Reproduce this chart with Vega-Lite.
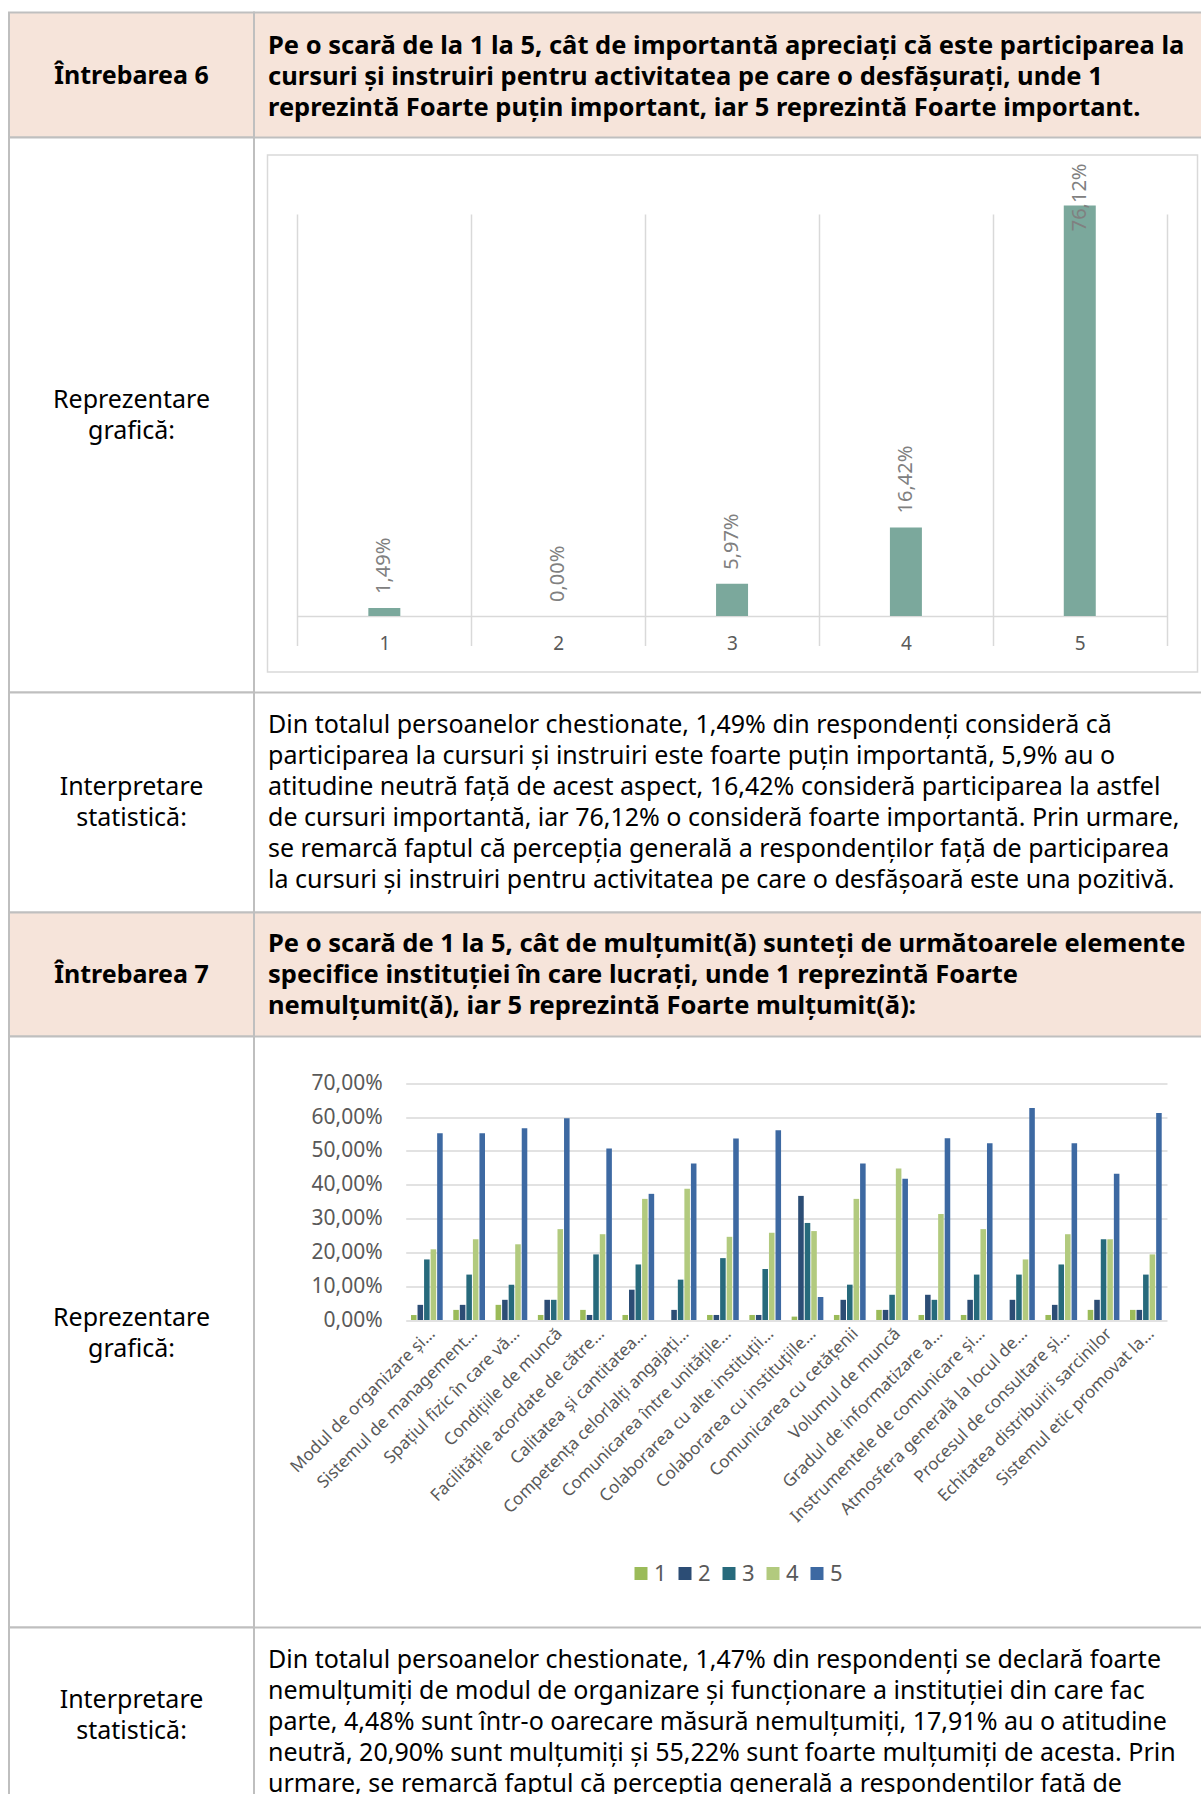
{
  "$schema": "https://vega.github.io/schema/vega-lite/v6.json",
  "padding": {"left": 8, "top": 11.5, "right": -12, "bottom": -14.5},
  "background": "white",
  "columns": 2,
  "spacing": 0,
  "bounds": "flush",
  "align": "each",
  "config": {
    "view": {"stroke": null},
    "font": "Noto Sans",
    "locale": {"number": {"decimal": ",", "thousands": ".", "grouping": [3], "currency": ["", " €"]}}
  },
  "concat": [
    {
      "width": 245, "height": 125,
      "view": {"fill": "#F6E4DA", "stroke": "#BFBFBF", "strokeWidth": 2},
      "data": {"values": [{"t": "Întrebarea 6"}]},
      "mark": {"type": "text", "fontSize": 25, "fontWeight": "bold", "color": "#000000", "align": "center", "baseline": "middle", "dy": 0.5},
      "encoding": {"text": {"field": "t", "type": "nominal"}}
    },
    {
      "width": 958, "height": 125,
      "view": {"fill": "#F6E4DA", "stroke": "#BFBFBF", "strokeWidth": 2},
      "data": {"values": [{"t": "Pe o scară de la 1 la 5, cât de importantă apreciați că este participarea la\ncursuri și instruiri pentru activitatea pe care o desfășurați, unde 1\nreprezintă Foarte puțin important, iar 5 reprezintă Foarte important."}]},
      "mark": {"type": "text", "fontSize": 25.5, "fontWeight": "bold", "color": "#000000", "align": "left", "baseline": "middle", "lineBreak": "\n", "lineHeight": 31, "dy": -29.5},
      "encoding": {"text": {"field": "t", "type": "nominal"}, "x": {"value": 14}}
    },
    {
      "width": 245, "height": 555,
      "view": {"fill": "white", "stroke": "#BFBFBF", "strokeWidth": 2},
      "data": {"values": [{"t": "Reprezentare\ngrafică:"}]},
      "mark": {"type": "text", "fontSize": 25, "color": "#000000", "align": "center", "baseline": "middle", "lineBreak": "\n", "lineHeight": 31, "dy": -15.5},
      "encoding": {"text": {"field": "t", "type": "nominal"}}
    },
    {
      "width": 958, "height": 555,
      "layer": [
        {
          "data": {"values": [{"f": "frame"}]},
          "mark": {"type": "rect", "filled": false, "color": "#D9D9D9", "strokeWidth": 1.5},
          "encoding": {
            "x": {"datum": 0, "type": "quantitative", "scale": {"domain": [0, 1], "range": [13.5, 943.5]}, "axis": null},
            "x2": {"datum": 1},
            "y": {"datum": 0, "type": "quantitative", "scale": {"domain": [0, 1], "range": [17.5, 534.5]}, "axis": null},
            "y2": {"datum": 1}
          }
        },
        {
          "data": {"values": [
            {"k": "1", "v": 0.0149},
            {"k": "2", "v": 0.0},
            {"k": "3", "v": 0.0597},
            {"k": "4", "v": 0.1642},
            {"k": "5", "v": 0.7612}
          ]},
          "encoding": {
            "x": {
              "field": "k", "type": "ordinal",
              "scale": {"range": [43.4, 912.7], "paddingInner": 0, "paddingOuter": 0},
              "axis": {"orient": "bottom", "offset": -76.5, "title": null, "labelAngle": 0, "domain": true, "domainColor": "#D9D9D9", "domainWidth": 1.5, "ticks": false, "grid": true, "gridColor": "#D9D9D9", "gridWidth": 1.5, "tickBand": "extent", "labelFontSize": 19, "labelColor": "#595959", "labelPadding": 18.5}
            },
            "y": {"field": "v", "type": "quantitative", "scale": {"domain": [0, 0.8], "range": [478.5, 47.1]}, "axis": null}
          },
          "layer": [
            {"mark": {"type": "bar", "color": "#7BA89C", "width": {"band": 0.184}}},
            {
              "transform": [{"filter": {"field": "v", "lt": 0.5}}],
              "mark": {"type": "text", "angle": 270, "align": "left", "baseline": "middle", "dx": 14, "fontSize": 20, "color": "#808080"},
              "encoding": {"text": {"field": "v", "type": "quantitative", "format": ".2%"}}
            },
            {
              "transform": [{"filter": {"field": "v", "gte": 0.5}}],
              "mark": {"type": "text", "angle": 270, "align": "right", "baseline": "middle", "dx": 42, "fontSize": 20, "color": "#808080"},
              "encoding": {"text": {"field": "v", "type": "quantitative", "format": ".2%"}}
            }
          ]
        }
      ],
      "resolve": {"scale": {"x": "independent", "y": "independent"}}
    },
    {
      "width": 245, "height": 220,
      "view": {"fill": "white", "stroke": "#BFBFBF", "strokeWidth": 2},
      "data": {"values": [{"t": "Interpretare\nstatistică:"}]},
      "mark": {"type": "text", "fontSize": 25, "color": "#000000", "align": "center", "baseline": "middle", "lineBreak": "\n", "lineHeight": 31, "dy": -15.5},
      "encoding": {"text": {"field": "t", "type": "nominal"}}
    },
    {
      "width": 958, "height": 220,
      "view": {"fill": "white", "stroke": "#BFBFBF", "strokeWidth": 2},
      "data": {"values": [{"t": "Din totalul persoanelor chestionate, 1,49% din respondenți consideră că\nparticiparea la cursuri și instruiri este foarte puțin importantă, 5,9% au o\natitudine neutră față de acest aspect, 16,42% consideră participarea la astfel\nde cursuri importantă, iar 76,12% o consideră foarte importantă. Prin urmare,\nse remarcă faptul că percepția generală a respondenților față de participarea\nla cursuri și instruiri pentru activitatea pe care o desfășoară este una pozitivă."}]},
      "mark": {"type": "text", "fontSize": 25, "color": "#000000", "align": "left", "baseline": "middle", "lineBreak": "\n", "lineHeight": 31, "dy": -77.5},
      "encoding": {"text": {"field": "t", "type": "nominal"}, "x": {"value": 14}}
    },
    {
      "width": 245, "height": 124,
      "view": {"fill": "#F6E4DA", "stroke": "#BFBFBF", "strokeWidth": 2},
      "data": {"values": [{"t": "Întrebarea 7"}]},
      "mark": {"type": "text", "fontSize": 25, "fontWeight": "bold", "color": "#000000", "align": "center", "baseline": "middle"},
      "encoding": {"text": {"field": "t", "type": "nominal"}}
    },
    {
      "width": 958, "height": 124,
      "view": {"fill": "#F6E4DA", "stroke": "#BFBFBF", "strokeWidth": 2},
      "data": {"values": [{"t": "Pe o scară de 1 la 5, cât de mulțumit(ă) sunteți de următoarele elemente\nspecifice instituției în care lucrați, unde 1 reprezintă Foarte\nnemulțumit(ă), iar 5 reprezintă Foarte mulțumit(ă):"}]},
      "mark": {"type": "text", "fontSize": 25.5, "fontWeight": "bold", "color": "#000000", "align": "left", "baseline": "middle", "lineBreak": "\n", "lineHeight": 31, "dy": -31},
      "encoding": {"text": {"field": "t", "type": "nominal"}, "x": {"value": 14}}
    },
    {
      "width": 245, "height": 591,
      "view": {"fill": "white", "stroke": "#BFBFBF", "strokeWidth": 2},
      "data": {"values": [{"t": "Reprezentare\ngrafică:"}]},
      "mark": {"type": "text", "fontSize": 25, "color": "#000000", "align": "center", "baseline": "middle", "lineBreak": "\n", "lineHeight": 31, "dy": -14.5},
      "encoding": {"text": {"field": "t", "type": "nominal"}}
    },
    {
      "width": 958, "height": 591,
      "data": {"values": [
        {"c": "Modul de organizare și…", "1": 0.0147, "2": 0.0448, "3": 0.1791, "4": 0.2090, "5": 0.5522},
        {"c": "Sistemul de management…", "1": 0.0299, "2": 0.0448, "3": 0.1343, "4": 0.2388, "5": 0.5522},
        {"c": "Spațiul fizic în care vă…", "1": 0.0448, "2": 0.0597, "3": 0.1045, "4": 0.2239, "5": 0.5672},
        {"c": "Condițiile de muncă", "1": 0.0149, "2": 0.0597, "3": 0.0597, "4": 0.2687, "5": 0.5970},
        {"c": "Facilitățile acordate de către…", "1": 0.0299, "2": 0.0149, "3": 0.1940, "4": 0.2537, "5": 0.5075},
        {"c": "Calitatea și cantitatea…", "1": 0.0149, "2": 0.0896, "3": 0.1642, "4": 0.3582, "5": 0.3731},
        {"c": "Competența celorlalți angajați…", "1": 0.0, "2": 0.0299, "3": 0.1194, "4": 0.3881, "5": 0.4627},
        {"c": "Comunicarea între unitățile…", "1": 0.0149, "2": 0.0149, "3": 0.1830, "4": 0.2460, "5": 0.5370},
        {"c": "Colaborarea cu alte instituții…", "1": 0.0149, "2": 0.0149, "3": 0.1510, "4": 0.2580, "5": 0.5610},
        {"c": "Colaborarea cu instituțiile…", "1": 0.0100, "2": 0.3670, "3": 0.2870, "4": 0.2630, "5": 0.0680},
        {"c": "Comunicarea cu cetățenii", "1": 0.0149, "2": 0.0597, "3": 0.1045, "4": 0.3582, "5": 0.4627},
        {"c": "Volumul de muncă", "1": 0.0299, "2": 0.0299, "3": 0.0746, "4": 0.4478, "5": 0.4179},
        {"c": "Gradul de informatizare a…", "1": 0.0149, "2": 0.0746, "3": 0.0597, "4": 0.3134, "5": 0.5373},
        {"c": "Instrumentele de comunicare și…", "1": 0.0149, "2": 0.0597, "3": 0.1343, "4": 0.2687, "5": 0.5224},
        {"c": "Atmosfera generală la locul de…", "1": 0.0, "2": 0.0597, "3": 0.1343, "4": 0.1791, "5": 0.6269},
        {"c": "Procesul de consultare și…", "1": 0.0149, "2": 0.0448, "3": 0.1642, "4": 0.2537, "5": 0.5224},
        {"c": "Echitatea distribuirii sarcinilor", "1": 0.0299, "2": 0.0597, "3": 0.2388, "4": 0.2388, "5": 0.4328},
        {"c": "Sistemul etic promovat la…", "1": 0.0299, "2": 0.0299, "3": 0.1343, "4": 0.1940, "5": 0.6119}
      ]},
      "transform": [{"fold": ["1", "2", "3", "4", "5"], "as": ["s", "v"]}],
      "mark": {"type": "bar"},
      "encoding": {
        "x": {
          "field": "c", "type": "nominal", "sort": null,
          "scale": {"range": [151.7, 913], "paddingInner": 0.25, "paddingOuter": 0.125},
          "axis": {"orient": "bottom", "offset": -307.5, "title": null, "labelAngle": -45, "labelAlign": "right", "labelBaseline": "top", "labelFontSize": 17, "labelColor": "#595959", "ticks": false, "domain": false, "grid": false, "labelPadding": 5, "labelLimit": 0}
        },
        "xOffset": {"field": "s", "type": "nominal", "scale": {"paddingInner": 0.15}},
        "y": {
          "field": "v", "type": "quantitative",
          "scale": {"domain": [0, 0.7], "range": [283.5, 46.8]},
          "axis": {"orient": "left", "offset": -151.7, "title": null, "values": [0, 0.1, 0.2, 0.3, 0.4, 0.5, 0.6, 0.7], "format": ".2%", "domain": false, "ticks": false, "tickSize": 0, "labelPadding": 23.5, "labelFontSize": 21, "labelColor": "#595959", "grid": true, "gridColor": "#D9D9D9", "gridWidth": 1.5}
        },
        "color": {
          "field": "s", "type": "nominal",
          "scale": {"domain": ["1", "2", "3", "4", "5"], "range": ["#9BBB59", "#2C4D75", "#276A7C", "#B2CA7E", "#3D69A2"]},
          "legend": {"orient": "none", "legendX": 621, "legendY": 1550, "direction": "horizontal", "title": null, "symbolType": "square", "symbolSize": 169, "symbolStrokeWidth": 0, "labelFontSize": 22, "labelColor": "#595959", "columnPadding": 7, "labelOffset": 2, "padding": 0}
        }
      }
    },
    {
      "width": 245, "height": 180,
      "view": {"fill": "white", "stroke": "#BFBFBF", "strokeWidth": 2},
      "data": {"values": [{"t": "Interpretare\nstatistică:"}]},
      "mark": {"type": "text", "fontSize": 25, "color": "#000000", "align": "center", "baseline": "middle", "lineBreak": "\n", "lineHeight": 31, "dy": -17.5},
      "encoding": {"text": {"field": "t", "type": "nominal"}}
    },
    {
      "width": 958, "height": 180,
      "view": {"fill": "white", "stroke": "#BFBFBF", "strokeWidth": 2},
      "data": {"values": [{"t": "Din totalul persoanelor chestionate, 1,47% din respondenți se declară foarte\nnemulțumiți de modul de organizare și funcționare a instituției din care fac\nparte, 4,48% sunt într-o oarecare măsură nemulțumiți, 17,91% au o atitudine\nneutră, 20,90% sunt mulțumiți și 55,22% sunt foarte mulțumiți de acesta. Prin\nurmare, se remarcă faptul că percepția generală a respondenților față de"}]},
      "mark": {"type": "text", "fontSize": 25, "color": "#000000", "align": "left", "baseline": "middle", "lineBreak": "\n", "lineHeight": 31, "dy": -57.5},
      "encoding": {"text": {"field": "t", "type": "nominal"}, "x": {"value": 14}}
    }
  ]
}
